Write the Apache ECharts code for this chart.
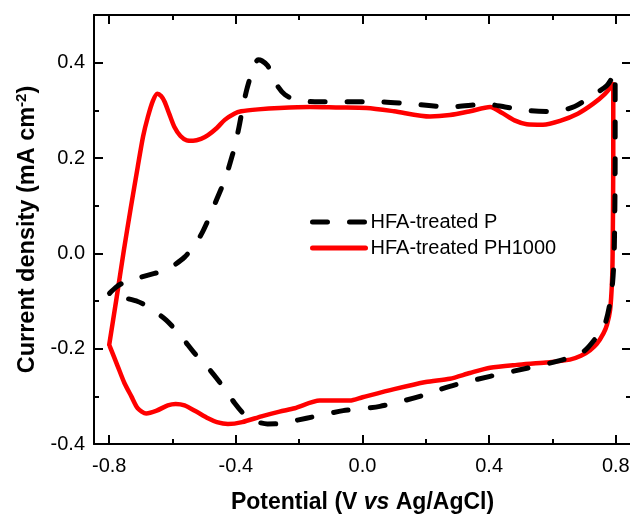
<!DOCTYPE html>
<html>
<head>
<meta charset="utf-8">
<script src="https://cdn.jsdelivr.net/npm/echarts@6/dist/echarts.min.js"></script>
<style>
  html, body { margin: 0; padding: 0; background: #fff; }
  #chart { width: 630px; height: 514px; }
</style>
</head>
<body>
<div id="chart"></div>
<script>
// Cyclic voltammograms: [potential (V vs Ag/AgCl), current density (mA cm^-2)]
const seriesNames = ['HFA-treated P', 'HFA-treated PH1000'];

const cvP = [
  [-0.799, -0.084], [-0.780, -0.072], [-0.762, -0.064], [-0.710, -0.052], [-0.657, -0.042],
  [-0.625, -0.037], [-0.595, -0.025], [-0.562, -0.008], [-0.530, 0.017], [-0.505, 0.045],
  [-0.483, 0.077], [-0.460, 0.114], [-0.435, 0.154], [-0.418, 0.190], [-0.404, 0.223],
  [-0.390, 0.265], [-0.378, 0.307], [-0.365, 0.345], [-0.351, 0.377], [-0.340, 0.398],
  [-0.330, 0.406], [-0.318, 0.404], [-0.300, 0.394], [-0.283, 0.372], [-0.267, 0.350],
  [-0.245, 0.333], [-0.214, 0.322], [-0.150, 0.318], [-0.050, 0.318], [0.050, 0.318],
  [0.160, 0.313], [0.276, 0.307], [0.392, 0.313], [0.450, 0.307], [0.519, 0.300],
  [0.603, 0.297], [0.670, 0.308], [0.719, 0.328], [0.772, 0.352], [0.798, 0.380],
  [0.798, 0.200], [0.795, 0.000], [0.790, -0.060], [0.780, -0.110], [0.765, -0.150],
  [0.740, -0.175], [0.700, -0.205], [0.634, -0.223], [0.519, -0.241], [0.403, -0.258],
  [0.276, -0.279], [0.181, -0.300], [0.055, -0.321], [-0.061, -0.330], [-0.177, -0.346],
  [-0.262, -0.357], [-0.300, -0.358], [-0.340, -0.352], [-0.372, -0.339], [-0.404, -0.314],
  [-0.440, -0.280], [-0.483, -0.244], [-0.530, -0.210], [-0.572, -0.175], [-0.620, -0.140],
  [-0.678, -0.112], [-0.710, -0.101], [-0.760, -0.092], [-0.799, -0.084]
];

const cvPH1000 = [
  [-0.800, -0.192], [-0.777, -0.095], [-0.754, 0.005], [-0.732, 0.095], [-0.710, 0.181],
  [-0.693, 0.245], [-0.678, 0.286], [-0.662, 0.320],
  [-0.648, 0.335], [-0.636, 0.330], [-0.625, 0.318], [-0.610, 0.292], [-0.594, 0.265],
  [-0.575, 0.246], [-0.555, 0.237], [-0.535, 0.236], [-0.510, 0.240], [-0.488, 0.248],
  [-0.460, 0.263], [-0.435, 0.280], [-0.405, 0.293], [-0.383, 0.298], [-0.330, 0.302],
  [-0.262, 0.305], [-0.166, 0.307], [-0.080, 0.306], [0.013, 0.305], [0.100, 0.298],
  [0.213, 0.287], [0.276, 0.290], [0.340, 0.298], [0.403, 0.307], [0.440, 0.295],
  [0.480, 0.279], [0.519, 0.271], [0.570, 0.270], [0.624, 0.278], [0.680, 0.293],
  [0.729, 0.314], [0.765, 0.334], [0.792, 0.355],
  [0.792, 0.200], [0.790, 0.000], [0.788, -0.060], [0.782, -0.119], [0.772, -0.150],
  [0.761, -0.168], [0.740, -0.190], [0.719, -0.203], [0.690, -0.215], [0.655, -0.223],
  [0.580, -0.229], [0.487, -0.234], [0.403, -0.240], [0.339, -0.251], [0.276, -0.263],
  [0.200, -0.270], [0.100, -0.285], [0.000, -0.302], [-0.040, -0.309], [-0.135, -0.309],
  [-0.214, -0.325], [-0.262, -0.332], [-0.319, -0.342], [-0.380, -0.354], [-0.425, -0.358],
  [-0.460, -0.354], [-0.488, -0.346], [-0.525, -0.332], [-0.562, -0.319], [-0.590, -0.316],
  [-0.615, -0.319], [-0.650, -0.330], [-0.683, -0.336], [-0.710, -0.325], [-0.730, -0.300],
  [-0.752, -0.272], [-0.773, -0.237], [-0.800, -0.192]
];

const potentialRange = [-0.848, 0.848];
const currentRange = [-0.4, 0.5];
const potentialMajor = [-0.8, -0.4, 0.0, 0.4, 0.8];
const potentialMinor = [-0.6, -0.2, 0.2, 0.6];
const currentMajor = [-0.4, -0.2, 0.0, 0.2, 0.4];
const currentMinor = [-0.3, -0.1, 0.1, 0.3];

const FONT = '"Liberation Sans", Arial, Helvetica, sans-serif';
const AXIS_COLOR = '#000';

function makeAxis(kind, position, ticks, tickLen, opts) {
  const range = kind === 'x' ? potentialRange : currentRange;
  return Object.assign({
    type: 'value',
    position: position,
    min: range[0],
    max: range[1],
    splitLine: { show: false },
    axisLine: { show: false, onZero: false },
    axisTick: {
      show: true,
      inside: true,
      length: tickLen,
      customValues: ticks,
      lineStyle: { color: AXIS_COLOR, width: 2 }
    },
    axisLabel: { show: false },
    axisPointer: { show: false }
  }, opts || {});
}

const mainAxisLine = { show: true, onZero: false, lineStyle: { color: AXIS_COLOR, width: 2 } };

const xAxes = [
  makeAxis('x', 'bottom', potentialMajor, 9, {
    axisLine: mainAxisLine,
    axisLabel: {
      show: true,
      customValues: potentialMajor,
      formatter: v => v.toFixed(1),
      color: '#000',
      fontFamily: FONT,
      fontSize: 20,
      margin: 12
    },
    name: 'Potential (V {it|vs} Ag/AgCl)',
    nameLocation: 'middle',
    nameGap: 47,
    nameTextStyle: {
      color: '#000',
      fontFamily: FONT,
      fontSize: 23,
      fontWeight: 'bold',
      rich: {
        it: { fontStyle: 'italic', fontWeight: 'bold', fontSize: 23, fontFamily: FONT, color: '#000' }
      }
    }
  }),
  makeAxis('x', 'bottom', potentialMinor, 5),
  makeAxis('x', 'top', potentialMajor, 9, { axisLine: mainAxisLine }),
  makeAxis('x', 'top', potentialMinor, 5)
];

const yAxes = [
  makeAxis('y', 'left', currentMajor, 9, {
    axisLine: mainAxisLine,
    axisLabel: {
      show: true,
      customValues: currentMajor,
      formatter: v => v.toFixed(1),
      color: '#000',
      fontFamily: FONT,
      fontSize: 20,
      margin: 9
    },
    name: 'Current density (mA cm{sup|-2})',
    nameLocation: 'middle',
    nameGap: 52,
    nameTextStyle: {
      color: '#000',
      fontFamily: FONT,
      fontSize: 23.5,
      fontWeight: 'bold',
      rich: {
        sup: { fontSize: 15, fontWeight: 'bold', fontFamily: FONT, color: '#000', padding: [0, 0, 12, 0] }
      }
    }
  }),
  makeAxis('y', 'left', currentMinor, 5),
  makeAxis('y', 'right', currentMajor, 9, { axisLine: mainAxisLine }),
  makeAxis('y', 'right', currentMinor, 5)
];

const chart = echarts.init(document.getElementById('chart'), null, { renderer: 'canvas' });
chart.setOption({
  animation: false,
  backgroundColor: '#fff',
  grid: { left: 94, top: 15, width: 537, height: 429, containLabel: false, outerBoundsMode: 'none' },
  legend: {
    data: [seriesNames[0], seriesNames[1]],
    orient: 'vertical',
    left: 310,
    top: 212,
    padding: 0,
    itemWidth: 53,
    itemHeight: 12,
    itemGap: 6,
    itemStyle: { opacity: 0 },
    lineStyle: { width: 5 },
    textStyle: { color: '#000', fontFamily: FONT, fontSize: 20 }
  },
  xAxis: xAxes,
  yAxis: yAxes,
  series: [
    {
      name: seriesNames[1],
      type: 'line',
      xAxisIndex: 0,
      yAxisIndex: 0,
      data: cvPH1000,
      smooth: 0.25,
      symbol: 'none',
      showSymbol: false,
      lineStyle: { color: '#ff0000', width: 4.5, cap: 'round', join: 'round' },
      itemStyle: { color: '#ff0000' },
      z: 2
    },
    {
      name: seriesNames[0],
      type: 'line',
      xAxisIndex: 0,
      yAxisIndex: 0,
      data: cvP,
      smooth: 0.25,
      symbol: 'none',
      showSymbol: false,
      lineStyle: { color: '#000', width: 5, type: [15, 22], cap: 'round', join: 'round' },
      itemStyle: { color: '#000' },
      z: 3
    }
  ]
});
</script>
</body>
</html>
